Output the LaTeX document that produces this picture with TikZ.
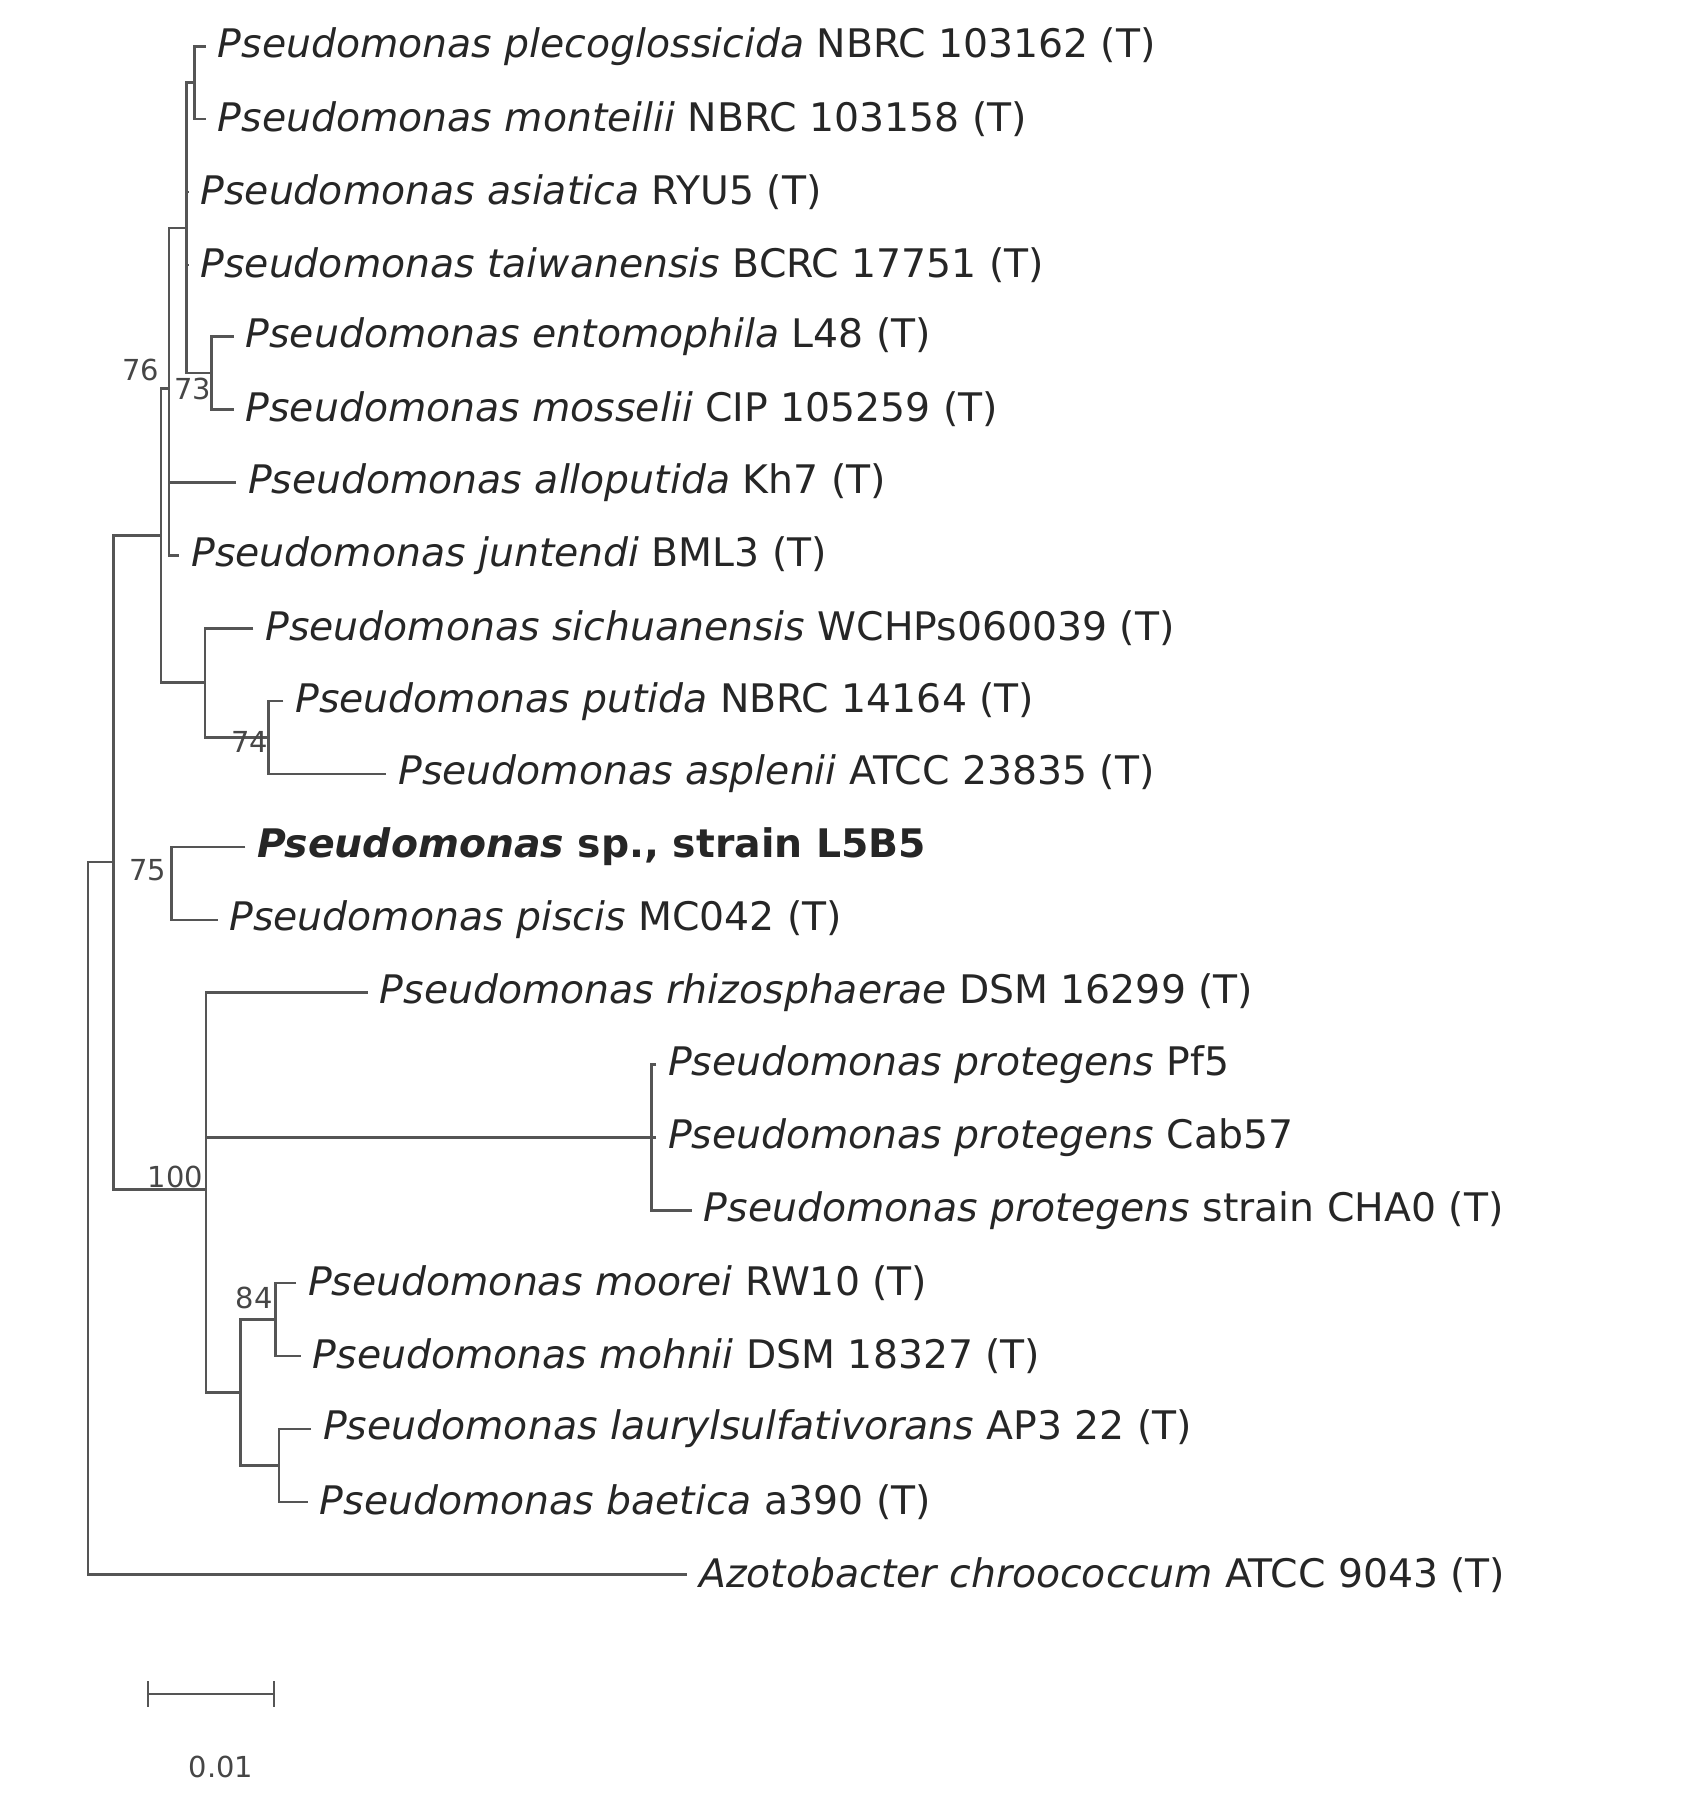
\documentclass[tikz,border=0pt]{standalone}
\usepackage{fontspec}
\setmainfont{DejaVu Sans}
\usetikzlibrary{calc}
\definecolor{branchgray}{RGB}{85,85,85}
\definecolor{labelgray}{RGB}{70,70,70}
\tikzset{
    leaf/.style={anchor=west, inner xsep=5pt, inner ysep=0pt, text=black!85, font=\fontsize{17}{20}\selectfont},
    branch/.style={draw=branchgray, line width=1.1pt},
    boot/.style={text=labelgray, inner sep=0pt, font=\fontsize{12.5}{14}\selectfont}
}
\newcommand{\pspec}[2]{\textit{Pseudomonas #1} #2}
\begin{document}
\begin{tikzpicture}[x=0.5pt,y=-0.5pt]
\useasboundingbox (0,0) rectangle (1461.5,1570.4);

% leaves
\node[leaf] (pleco) at (178,40) {\pspec{plecoglossicida}{NBRC 103162 (T)}};
\node[leaf] (monte) at (178,103) {\pspec{monteilii}{NBRC 103158 (T)}};
\node[leaf] (asia) at (163,166) {\pspec{asiatica}{RYU5 (T)}};
\node[leaf] (taiw) at (163,229) {\pspec{taiwanensis}{BCRC 17751 (T)}};
\node[leaf] (ento) at (202,291) {\pspec{entomophila}{L48 (T)}};
\node[leaf] (moss) at (202,354) {\pspec{mosselii}{CIP 105259 (T)}};
\node[leaf] (allo) at (204,417) {\pspec{alloputida}{Kh7 (T)}};
\node[leaf] (junt) at (155,480) {\pspec{juntendi}{BML3 (T)}};
\node[leaf] (sich) at (219,543) {\pspec{sichuanensis}{WCHPs060039 (T)}};
\node[leaf] (puti) at (245,606) {\pspec{putida}{NBRC 14164 (T)}};
\node[leaf] (aspl) at (334,669) {\pspec{asplenii}{ATCC 23835 (T)}};
\node[leaf] (strain) at (212,732) {\bfseries\textit{Pseudomonas} sp., strain L5B5};
\node[leaf] (pisc) at (188,795) {\pspec{piscis}{MC042 (T)}};
\node[leaf] (rhiz) at (318,858) {\pspec{rhizosphaerae}{DSM 16299 (T)}};
\node[leaf] (pffive) at (567,920) {\pspec{protegens}{Pf5}};
\node[leaf] (cab) at (567,983) {\pspec{protegens}{Cab57}};
\node[leaf] (cha) at (598,1046) {\pspec{protegens}{strain CHA0 (T)}};
\node[leaf] (moor) at (256,1109) {\pspec{moorei}{RW10 (T)}};
\node[leaf] (mohn) at (260,1172) {\pspec{mohnii}{DSM 18327 (T)}};
\node[leaf] (laur) at (269,1235) {\pspec{laurylsulfativorans}{AP3 22 (T)}};
\node[leaf] (baet) at (266,1298) {\pspec{baetica}{a390 (T)}};
\node[leaf] (azot) at (594,1361) {\textit{Azotobacter chroococcum} ATCC 9043 (T)};

% internal nodes
\coordinate (nA) at (168,71.5);
\coordinate (nB) at (183,322.5);
\coordinate (nC) at (161,197);
\coordinate (nD) at (146,336);
\coordinate (nG) at (232,637.5);
\coordinate (nF) at (177,590);
\coordinate (nE) at (139,463);
\coordinate (nI) at (148,763.5);
\coordinate (nK) at (563,983);
\coordinate (nM) at (238,1140.5);
\coordinate (nN) at (241,1266.5);
\coordinate (nL) at (208,1203.5);
\coordinate (nJ) at (178,1028);
\coordinate (nH) at (98,745);
\coordinate (root) at (76,1053);

% branches
\draw[branch] (pleco.west) -| (nA) |- (monte.west);
\draw[branch] (ento.west) -| (nB) |- (moss.west);
\draw[branch] (nA) -| (nC) |- (nB);
\draw[branch] (asia.west) -| (nC) (taiw.west) -| (nC);
\draw[branch] (nC) -| (nD) |- (junt.west);
\draw[branch] (allo.west) -| (nD);
\draw[branch] (puti.west) -| (nG) |- (aspl.west);
\draw[branch] (sich.west) -| (nF) |- (nG);
\draw[branch] (nD) -| (nE) |- (nF);
\draw[branch] (strain.west) -| (nI) |- (pisc.west);
\draw[branch] (pffive.west) -| (nK) |- (cha.west);
\draw[branch] (cab.west) -- (nK);
\draw[branch] (moor.west) -| (nM) |- (mohn.west);
\draw[branch] (laur.west) -| (nN) |- (baet.west);
\draw[branch] (nM) -| (nL) |- (nN);
\draw[branch] (rhiz.west) -| (nJ) |- (nL);
\draw[branch] (nK) -- (nK -| nJ);
\draw[branch] (nE) -| (nH) |- (nJ);
\draw[branch] (nH) -| (root) |- (azot.west);

% bootstrap values
\node[boot, anchor=south east] at ($(nD)+(-8,-6)$) {76};
\node[boot, anchor=north east] at ($(nB)+(0,4)$) {73};
\node[boot, anchor=north east] at ($(nG)+(0,-6)$) {74};
\node[boot, anchor=south east] at ($(nI)+(-4,-2)$) {75};
\node[boot, anchor=south east] at ($(nJ)+(-2,-1)$) {100};
\node[boot, anchor=south east] at ($(nM)+(-2,-9)$) {84};

% scale bar
\coordinate (sbl) at (128,1464);
\coordinate (sbr) at (237,1464);
\draw[branch] (sbl) -- (sbr);
\draw[branch] ($(sbl)+(0,-11)$) -- ($(sbl)+(0,11)$);
\draw[branch] ($(sbr)+(0,-11)$) -- ($(sbr)+(0,11)$);
\node[boot] (sblabel) at (191,1527) {0.01};
\end{tikzpicture}
\end{document}
